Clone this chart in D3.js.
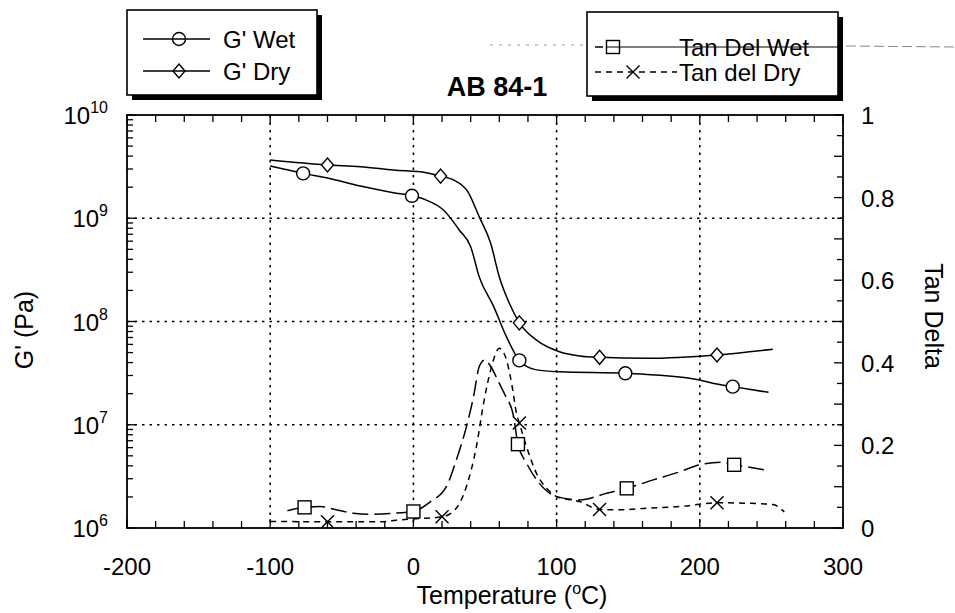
<!DOCTYPE html>
<html lang="en">
<head>
    <meta charset="UTF-8">
    <title>AB 84-1</title>
    <script src="https://d3js.org/d3.v7.min.js"></script>
    <style>
        body { margin: 0; background: #fff; }
        text { font-family: "Liberation Sans", Arial, Helvetica, sans-serif; fill: #000; }
        .grid { stroke: #000; stroke-width: 1.6; stroke-dasharray: 2.5,5; }
    </style>
</head>
<body>
<div id="chart"></div>
<script>
    // G' wet (circles)
    const gWetT  = [-100, -77, -60, -37, -14, -1, 9, 21, 32, 40, 46, 56, 65, 74, 86, 102, 148, 198, 209, 223, 248];
    const gWetPa = [3.2e9, 2.72e9, 2.45e9, 2.05e9, 1.77e9, 1.65e9, 1.5e9, 1.2e9, 7.7e8, 5.3e8, 2.7e8, 1.4e8, 7.1e7, 4.2e7, 3.4e7, 3.26e7, 3.15e7, 2.75e7, 2.52e7, 2.34e7, 2.06e7];
    const gWetMarkT  = [-77, -1, 74, 148, 223];
    const gWetMarkPa = [2.72e9, 1.65e9, 4.2e7, 3.15e7, 2.34e7];

    // G' dry (diamonds)
    const gDryT  = [-100, -60, -37, -14, 9, 19, 28, 38, 46, 54, 60, 67, 74, 86, 102, 116, 130, 163, 212, 251];
    const gDryPa = [3.66e9, 3.28e9, 3.16e9, 2.93e9, 2.76e9, 2.56e9, 2.35e9, 1.81e9, 1.03e9, 5.7e8, 2.7e8, 1.5e8, 9.7e7, 6.6e7, 5.1e7, 4.64e7, 4.5e7, 4.4e7, 4.74e7, 5.38e7];
    const gDryMarkT  = [-60, 19, 74, 130, 212];
    const gDryMarkPa = [3.28e9, 2.56e9, 9.7e7, 4.5e7, 4.74e7];

    // tan delta wet (squares)
    const tanWetT = [-88, -76, -65, -54, -42, -28, -9, 0, 12, 23, 30, 37, 42, 46, 50, 54, 60, 64, 70, 73, 79, 88, 100, 116, 135, 149, 167, 186, 200, 216, 224, 233, 248];
    const tanWetV = [0.042, 0.050, 0.052, 0.044, 0.036, 0.033, 0.037, 0.040, 0.064, 0.100, 0.165, 0.245, 0.318, 0.391, 0.407, 0.391, 0.350, 0.322, 0.269, 0.203, 0.157, 0.108, 0.076, 0.068, 0.084, 0.096, 0.116, 0.136, 0.153, 0.159, 0.153, 0.148, 0.139];
    const tanWetMarkT = [-76, 0, 73, 149, 224];
    const tanWetMarkV = [0.050, 0.040, 0.203, 0.096, 0.153];

    // tan delta dry (crosses)
    const tanDryT = [-100, -60, -23, -12, 0, 20, 29, 37, 44, 49, 54, 60, 65, 69, 72, 74, 79, 86, 93, 100, 116, 130, 144, 163, 186, 212, 233, 251, 259];
    const tanDryV = [0.016, 0.015, 0.015, 0.019, 0.022, 0.027, 0.044, 0.100, 0.197, 0.302, 0.383, 0.435, 0.407, 0.342, 0.278, 0.254, 0.197, 0.132, 0.096, 0.076, 0.064, 0.045, 0.044, 0.048, 0.052, 0.061, 0.060, 0.057, 0.039];
    const tanDryMarkT = [-60, 20, 74, 130, 212];
    const tanDryMarkV = [0.015, 0.027, 0.254, 0.045, 0.061];

    const xTicks = [-200, -100, 0, 100, 200, 300];
    const gTicks = [1e6, 1e7, 1e8, 1e9, 1e10];
    const tanTicks = [0, 0.2, 0.4, 0.6, 0.8, 1];

    const W = 955, H = 613;
    const L = 127, R = 843, T = 115, B = 528;

    const svg = d3.select("#chart").append("svg")
        .attr("width", W).attr("height", H);

    const x = d3.scaleLinear().domain([-200, 300]).range([L, R]);
    const yG = d3.scaleLog().domain([1e6, 1e10]).range([B, T]);
    const yT = d3.scaleLinear().domain([0, 1]).range([B, T]);

    // gridlines
    [-100, 0, 100, 200].forEach(v => {
        svg.append("line").attr("class", "grid")
            .attr("x1", x(v)).attr("x2", x(v)).attr("y1", T).attr("y2", B);
    });
    [1e7, 1e8, 1e9].forEach(v => {
        svg.append("line").attr("class", "grid")
            .attr("x1", L).attr("x2", R).attr("y1", yG(v)).attr("y2", yG(v));
    });

    // minor/major ticks (inward)
    const tk = svg.append("g").attr("stroke", "#000").attr("stroke-width", 1.3);
    d3.range(-200, 301, 20).forEach(v => {
        const len = v % 100 === 0 ? 9 : 7;
        tk.append("line").attr("x1", x(v)).attr("x2", x(v)).attr("y1", B).attr("y2", B - len);
        tk.append("line").attr("x1", x(v)).attr("x2", x(v)).attr("y1", T).attr("y2", T + len);
    });
    yG.ticks().forEach(v => {
        const major = gTicks.includes(v);
        tk.append("line").attr("x1", L).attr("x2", L + (major ? 9 : 6)).attr("y1", yG(v)).attr("y2", yG(v));
    });
    d3.range(0, 21).forEach(i => {
        const v = i * 0.05;
        tk.append("line").attr("x1", R).attr("x2", R - (i % 2 === 0 ? 9 : 6)).attr("y1", yT(v)).attr("y2", yT(v));
    });

    // frame
    svg.append("rect").attr("x", L).attr("y", T).attr("width", R - L).attr("height", B - T)
        .attr("fill", "none").attr("stroke", "#000").attr("stroke-width", 1.8);

    // tick labels
    svg.selectAll(".xl").data(xTicks).enter().append("text")
        .attr("x", d => x(d)).attr("y", 575).attr("text-anchor", "middle")
        .style("font-size", "24px").text(d => d);

    gTicks.forEach(v => {
        const t = svg.append("text").attr("x", 108).attr("y", yG(v) + 9)
            .attr("text-anchor", "end").style("font-size", "24px");
        t.append("tspan").text("10");
        t.append("tspan").attr("dy", -11).style("font-size", "16px").text(Math.round(Math.log10(v)));
    });

    svg.selectAll(".tl").data(tanTicks).enter().append("text")
        .attr("x", 861).attr("y", d => yT(d) + 9)
        .style("font-size", "24px").text(d => d);

    // axis titles
    const xt = svg.append("text").attr("x", 512).attr("y", 604).attr("text-anchor", "middle")
        .style("font-size", "25px");
    xt.append("tspan").text("Temperature (");
    xt.append("tspan").attr("dy", -10).style("font-size", "16px").text("o");
    xt.append("tspan").attr("dy", 10).text("C)");

    svg.append("text").attr("transform", "translate(33,330) rotate(-90)")
        .attr("text-anchor", "middle").style("font-size", "25px").text("G' (Pa)");
    svg.append("text").attr("transform", "translate(925,316) rotate(90)")
        .attr("text-anchor", "middle").style("font-size", "25px").text("Tan Delta");

    svg.append("text").attr("x", 497).attr("y", 96).attr("text-anchor", "middle")
        .style("font-size", "27px").style("font-weight", "bold").text("AB 84-1");

    // curves
    const lineG = (ts, vs) => d3.line().curve(d3.curveMonotoneX)
        .x((d, i) => x(ts[i])).y((d, i) => yG(vs[i]))(ts);
    const lineT = (ts, vs) => d3.line().curve(d3.curveMonotoneX)
        .x((d, i) => x(ts[i])).y((d, i) => yT(vs[i]))(ts);

    const plot = svg.append("g").attr("fill", "none").attr("stroke", "#000").attr("stroke-width", 1.5);
    plot.append("path").attr("d", lineG(gWetT, gWetPa));
    plot.append("path").attr("d", lineG(gDryT, gDryPa));
    plot.append("path").attr("d", lineT(tanWetT, tanWetV)).attr("stroke-dasharray", "16,6");
    plot.append("path").attr("d", lineT(tanDryT, tanDryV)).attr("stroke-dasharray", "6,5");

    // markers
    const circle = (g, cx, cy, fill) => g.append("circle").attr("cx", cx).attr("cy", cy).attr("r", 6.5)
        .attr("fill", fill).attr("stroke", "#000").attr("stroke-width", 1.4);
    const diamond = (g, cx, cy, fill) => g.append("path")
        .attr("d", `M${cx},${cy - 7}L${cx + 6},${cy}L${cx},${cy + 7}L${cx - 6},${cy}Z`)
        .attr("fill", fill).attr("stroke", "#000").attr("stroke-width", 1.4);
    const square = (g, cx, cy, fill) => g.append("rect").attr("x", cx - 6.5).attr("y", cy - 6.5)
        .attr("width", 13).attr("height", 13)
        .attr("fill", fill).attr("stroke", "#000").attr("stroke-width", 1.4);
    const cross = (g, cx, cy) => g.append("path")
        .attr("d", `M${cx - 6.5},${cy - 6.5}L${cx + 6.5},${cy + 6.5}M${cx + 6.5},${cy - 6.5}L${cx - 6.5},${cy + 6.5}`)
        .attr("fill", "none").attr("stroke", "#000").attr("stroke-width", 1.4);

    const mk = svg.append("g");
    gWetMarkT.forEach((t, i) => circle(mk, x(t), yG(gWetMarkPa[i]), "#fff"));
    gDryMarkT.forEach((t, i) => diamond(mk, x(t), yG(gDryMarkPa[i]), "#fff"));
    tanWetMarkT.forEach((t, i) => square(mk, x(t), yT(tanWetMarkV[i]), "#fff"));
    tanDryMarkT.forEach((t, i) => cross(mk, x(t), yT(tanDryMarkV[i])));

    // legends with drop shadow
    function legendBox(bx, by, bw, bh) {
        svg.append("rect").attr("x", bx + 5).attr("y", by + 5).attr("width", bw).attr("height", bh).attr("fill", "#000");
        svg.append("rect").attr("x", bx).attr("y", by).attr("width", bw).attr("height", bh)
            .attr("fill", "#fff").attr("stroke", "#000").attr("stroke-width", 1.6);
    }

    // faint scan lines around right legend
    svg.append("line").attr("x1", 490).attr("x2", 585).attr("y1", 45).attr("y2", 45)
        .attr("stroke", "#999").attr("stroke-width", 1).attr("stroke-dasharray", "3,6");
    svg.append("line").attr("x1", 846).attr("x2", 955).attr("y1", 46).attr("y2", 47)
        .attr("stroke", "#888").attr("stroke-width", 1).attr("stroke-dasharray", "10,4");

    legendBox(127, 10, 190, 85);
    legendBox(587, 12, 251, 84);

    const lg = svg.append("g").attr("stroke", "#000").attr("stroke-width", 1.5).attr("fill", "none");
    lg.append("line").attr("x1", 143).attr("x2", 210).attr("y1", 39).attr("y2", 39);
    circle(lg, 179, 39, "none");
    lg.append("line").attr("x1", 143).attr("x2", 210).attr("y1", 71).attr("y2", 71);
    diamond(lg, 179, 71, "none");

    lg.append("line").attr("x1", 595).attr("x2", 603).attr("y1", 47).attr("y2", 47);
    lg.append("line").attr("x1", 607).attr("x2", 842).attr("y1", 47).attr("y2", 47).attr("stroke-width", 1.2);
    square(lg, 613, 47, "none");
    lg.append("line").attr("x1", 595).attr("x2", 677).attr("y1", 72).attr("y2", 72).attr("stroke-dasharray", "6,5");
    cross(lg, 633, 72);

    const legText = [["G' Wet", 223, 39], ["G' Dry", 223, 71], ["Tan Del Wet", 679, 47], ["Tan del Dry", 679, 72]];
    legText.forEach(d => {
        svg.append("text").attr("x", d[1]).attr("y", d[2] + 8.5).style("font-size", "24px").text(d[0]);
    });
</script>
</body>
</html>
